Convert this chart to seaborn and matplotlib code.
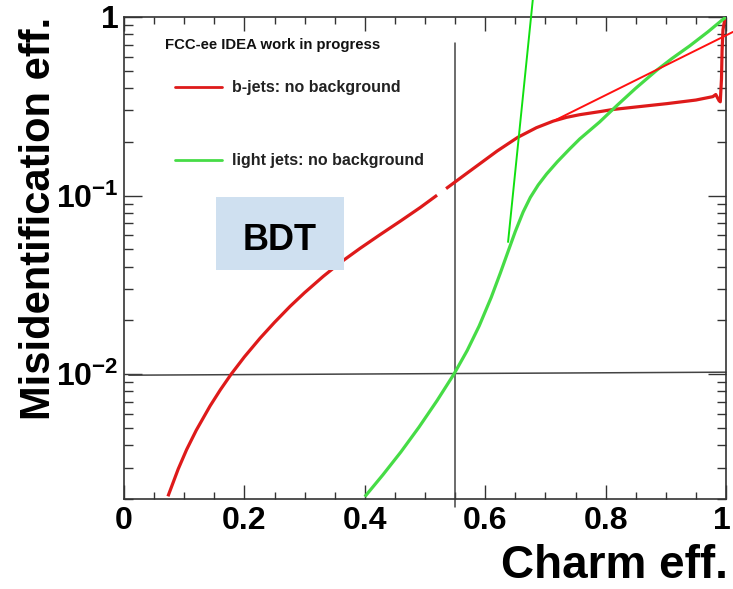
import numpy as np
import pandas as pd
import matplotlib
matplotlib.use("Agg")
import matplotlib.pyplot as plt
import seaborn as sns
from matplotlib.ticker import FixedLocator, FixedFormatter, LogLocator, MultipleLocator, NullFormatter
from matplotlib.patches import Rectangle
from matplotlib.lines import Line2D
from matplotlib.transforms import ScaledTranslation

# ---------------- data ----------------
bjet_eff = [0.073, 0.09, 0.104, 0.12, 0.143, 0.16, 0.178, 0.2, 0.226, 0.25, 0.276, 0.3,
            0.331, 0.36, 0.392, 0.425, 0.46, 0.492, 0.52,
            0.535, 0.547, 0.57, 0.591, 0.62, 0.654, 0.685, 0.713, 0.735, 0.757, 0.79, 0.812,
            0.85, 0.902, 0.95, 0.978, 0.983, 0.9885, 0.9905, 0.9925, 0.9935, 0.995, 0.998, 1.0]
bjet_mistag = [0.00207, 0.00294, 0.00378, 0.00485, 0.00664, 0.00817, 0.0100, 0.0125, 0.0159,
               0.0195, 0.0240, 0.0286, 0.0353, 0.0423, 0.0506, 0.0603, 0.0723, 0.0857, 0.1005,
               0.1094, 0.1172, 0.1337, 0.1507, 0.1778, 0.2118, 0.2399, 0.2612, 0.2742, 0.2838,
               0.2951, 0.3034, 0.3133, 0.3273, 0.3428, 0.3581, 0.368, 0.34, 0.335, 0.45, 0.65,
               0.85, 0.97, 1.0]
bjet_segment = [0] * 19 + [1] * 24

light_eff = [0.400, 0.43, 0.46, 0.49, 0.52, 0.548, 0.57, 0.59, 0.61, 0.625, 0.638, 0.65,
             0.663, 0.675, 0.688, 0.702, 0.72, 0.74, 0.757, 0.79, 0.819, 0.85, 0.885, 0.91,
             0.94, 0.97, 0.993, 1.0]
light_mistag = [0.00206, 0.00273, 0.00367, 0.00505, 0.00711, 0.0100, 0.01355, 0.01862,
                0.02692, 0.03673, 0.04864, 0.06295, 0.08091, 0.09772, 0.1146, 0.1321, 0.1549,
                0.1820, 0.2075, 0.2582, 0.3199, 0.3990, 0.5035, 0.5848, 0.6902, 0.8260,
                0.958, 1.0]
light_segment = [0] * 28

series_names = ["b-jets: no background", "light jets: no background"]
series_colors = ["#de1a1a", "#46dc46"]

x_ticks = [0, 0.2, 0.4, 0.6, 0.8, 1.0]
x_tick_labels = ["0", "0.2", "0.4", "0.6", "0.8", "1"]
y_ticks = [0.01, 0.1, 1.0]
y_tick_labels = [r"$10^{-2}$", r"$10^{-1}$", "1"]

# hand-drawn guide lines on the reference
wp_eff_x = [0.55, 0.55]
wp_eff_y = [0.0018, 0.716]
mistag_level_x = [0.008, 1.0]
mistag_level_y = [0.00987, 0.01026]
red_guide_x = [0.716, 1.0116]
red_guide_y = [0.264, 0.825]
green_guide_x = [0.638, 0.679]
green_guide_y = [0.055, 1.244]

# ---------------- style ----------------
sns.set_theme(style="white")
plt.rcParams["font.family"] = ["Liberation Sans", "DejaVu Sans"]
plt.rcParams["font.weight"] = "bold"
plt.rcParams["mathtext.fontset"] = "custom"
plt.rcParams["mathtext.rm"] = "Liberation Sans:bold"
plt.rcParams["mathtext.it"] = "Liberation Sans:bold"
plt.rcParams["mathtext.bf"] = "Liberation Sans:bold"
plt.rcParams["mathtext.default"] = "rm"

W, H = 733, 589
fig = plt.figure(figsize=(W / 100, H / 100), dpi=100)
fig.patch.set_facecolor("white")
ax = fig.add_axes([124 / W, 1 - 499 / H, 602 / W, 482 / H])
ax.set_yscale("log")

df = pd.concat([
    pd.DataFrame({"eff": bjet_eff, "mistag": bjet_mistag, "segment": bjet_segment,
                  "series": series_names[0]}),
    pd.DataFrame({"eff": light_eff, "mistag": light_mistag, "segment": light_segment,
                  "series": series_names[1]}),
], ignore_index=True)

sns.lineplot(data=df, x="eff", y="mistag", hue="series", units="segment",
             estimator=None, sort=False, palette=series_colors, hue_order=series_names,
             linewidth=2.3, legend=False, ax=ax, zorder=3,
             solid_joinstyle="round", solid_capstyle="butt")

# guide lines
ax.plot(wp_eff_x, wp_eff_y, color="#444444", lw=1.1, clip_on=False, zorder=2)
ax.plot(mistag_level_x, mistag_level_y, color="#444444", lw=1.1, clip_on=False, zorder=2)
ax.plot(red_guide_x, red_guide_y, color="#ff1010", lw=1.4, clip_on=False, zorder=4)
ax.plot(green_guide_x, green_guide_y, color="#10e010", lw=1.4, clip_on=False, zorder=4)

ax.set_xlim(0, 1)
ax.set_ylim(0.002, 1)

# ticks
ax.xaxis.set_major_locator(FixedLocator(x_ticks))
ax.xaxis.set_major_formatter(FixedFormatter(x_tick_labels))
ax.xaxis.set_minor_locator(MultipleLocator(0.05))
ax.yaxis.set_major_locator(FixedLocator(y_ticks))
ax.yaxis.set_major_formatter(FixedFormatter(y_tick_labels))
ax.yaxis.set_minor_locator(LogLocator(base=10, subs=np.arange(2, 10)))
ax.yaxis.set_minor_formatter(NullFormatter())

tick_col = "#333333"
ax.tick_params(axis="x", which="major", direction="in", length=10, width=1.0, top=True,
               bottom=True, labelsize=23, pad=5, color=tick_col, labelcolor="black")
ax.tick_params(axis="x", which="minor", direction="in", length=5, width=1.0, top=True,
               bottom=True, color=tick_col)
ax.tick_params(axis="y", which="major", direction="in", length=13, width=1.0, left=True,
               right=True, labelsize=23, pad=4, color=tick_col, labelcolor="black")
ax.tick_params(axis="y", which="minor", direction="in", length=6.5, width=1.0, left=True,
               right=True, color=tick_col)
for sp in ax.spines.values():
    sp.set_color(tick_col)
    sp.set_linewidth(1.2)

# keep the last x label inside the canvas
last_lbl = ax.xaxis.get_major_ticks()[-1].label1
last_lbl.set_transform(last_lbl.get_transform() + ScaledTranslation(-4 / 100, 0, fig.dpi_scale_trans))

# axis titles (ROOT style: aligned to the axis ends)
ax.set_xlabel("Charm eff.", fontsize=33, fontweight="bold", color="black")
ax.xaxis.label.set_horizontalalignment("right")
ax.xaxis.label.set_verticalalignment("baseline")
ax.xaxis.set_label_coords(1.0033, -0.1639)
ax.set_ylabel("Misidentification eff.", fontsize=30, fontweight="bold", color="black")
ax.yaxis.label.set_horizontalalignment("right")
ax.yaxis.label.set_verticalalignment("baseline")
ax.yaxis.set_label_coords(-0.123, 1.0)

# header + legend
ax.text(0.068, 0.942, "FCC-ee IDEA work in progress", transform=ax.transAxes,
        fontsize=10.7, fontweight="bold", ha="left", va="center", color="#111111")
handles = [Line2D([], [], color=c, lw=2.0) for c in series_colors]
ax.legend(handles, series_names, loc="upper left", bbox_to_anchor=(0.0847, 0.869),
          frameon=False, fontsize=11.5, handlelength=2.94, handletextpad=0.63,
          labelspacing=3.65, borderpad=0, borderaxespad=0, labelcolor="#222222")

# BDT tag
ax.add_patch(Rectangle((0.1528, 0.4751), 0.2126, 0.1515, transform=ax.transAxes,
                       facecolor="#cfe0f0", edgecolor="none", zorder=5))
ax.text(0.2591, 0.5166, "BDT", transform=ax.transAxes, fontsize=26, fontweight="bold",
        ha="center", va="baseline", color="black", zorder=6)

fig.savefig("out.png", dpi=100, facecolor="white")
